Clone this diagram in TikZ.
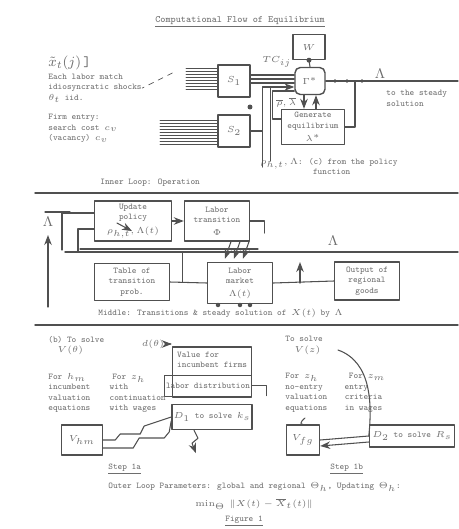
\documentclass[tikz,border=0pt]{standalone}
\usepackage{amsmath,amssymb}
\usetikzlibrary{arrows.meta,calc,positioning}
\definecolor{scanink}{HTML}{505050}
\definecolor{scantext}{HTML}{6E6E6E}

\begin{document}
\begin{tikzpicture}[x=0.02cm,y=-0.02cm,>=Stealth,line cap=round,line join=round,
  font=\fontsize{5}{6}\selectfont\ttfamily,text=scantext,
  blk/.style={draw=scanink,thick,inner sep=1pt,align=center},
  note/.style={inner sep=0pt,align=left,anchor=north west},
  wire/.style={draw=scanink,semithick},
  rule/.style={draw=scanink,thick},
  dot/.style={circle,fill=scanink,inner sep=1pt}]
\path[use as bounding box] (0,0) rectangle (458,529);
\fill[white] (0,0) rectangle (458,529);

\node[font=\fontsize{5.5}{6}\selectfont\ttfamily] (title) at (240,22) {\underline{Computational Flow of Equilibrium}};

% oberer Teil: Schocks -> S1, S2 -> P
\node[note] (shock) at (48,56) {{\fontsize{8}{8}\selectfont$\tilde{x}_t(j)$\,]}\\[1pt]
  Each labor match\\idiosyncratic shocks\\$\theta_t$ iid.\\[5pt]
  Firm entry:\\search cost $c_v$\\(vacancy) $c_v$};
\node[blk,minimum width=0.64cm,minimum height=0.64cm] (S1) at (234,81) {$S_1$};
\node[blk,minimum width=0.64cm,minimum height=0.64cm] (S2) at (234,131) {$S_2$};
\node[blk,minimum width=0.64cm,minimum height=0.5cm] (W) at (309,47) {$W$};
\node[blk,rounded corners=3pt,minimum width=0.6cm,minimum height=0.54cm] (P) at (310,81) {$\Gamma^{*}$};
\node[blk,minimum width=1.26cm,minimum height=0.7cm] (gen) at (313,127) {Generate\\equilibrium\\[1.5pt]$\lambda^{*}$};
\node[note] (tc) at (262,56) {$TC_{ij}$};
\node[note,font=\fontsize{4.5}{5}\selectfont] (rho) at (276,97) {$\overline{\rho},\overline{\lambda}$};
\node[note] (steady) at (386,90) {to the steady\\solution};
\node[note] (flow) at (260,158) {$\rho_{h,t},\Lambda$: (c) from the policy\\\hspace{6em}function};
\node[font=\fontsize{8}{8}\selectfont] (lam1) at (380,74) {$\Lambda$};
\coordinate (outR) at (458,81);
\coordinate (tap) at (355,81);

% schraffierte Baender
\foreach \yy in {68,71,...,89} \draw[scanink,thin] (186,\yy) -- (S1.west |- 0,\yy);
\foreach \yy in {120,123,...,144} \draw[scanink,thin] (160,\yy) -- (S2.west |- 0,\yy);
\draw[scanink,thin,dashed] (S1.west) ++(-45,-8) -- ++(-30,15);

\foreach \d in {-6,-2,2} \draw[wire] ($(S1.east)+(0,\d)$) -- ($(P.west)+(0,\d)$);
\draw[wire,->] (S2.east) -- ++(12,0) |- ($(P.west)+(0,6)$);
\draw[wire] ($(S1.east)+(12,6)$) -- ++(0,80);
\draw[wire] ($(S1.east)+(20,6)$) -- ++(0,74);
\node[dot] (d1) at (250,107) {};
\draw[wire] (W.south) -- (P.north);
\node[dot] at (W.south) {};
\draw[wire] (P.east) -- (outR);
\foreach \xx in {335,347,362} \node[dot,inner sep=0.8pt] at (\xx,81) {};
\draw[wire] (gen.east) -| (tap);
\draw[wire,->] ($(P.south)+(-6,0)$) -- ($(gen.north)+(-9,0)$);
\draw[wire,<-] ($(P.south)+(6,0)$) -- ($(gen.north)+(3,0)$);
\draw[wire] ($(gen.west)+(0,-8)$) -- ++(-8,0) |- ($(P.west)+(0,10)$);

% innere Schleife
\node[note] (inner) at (100,179) {Inner Loop: Operation};
\draw[rule] (35,193) -- (458,193);
\node[blk,minimum width=1.54cm,minimum height=0.8cm] (upd) at (133,221) {Update\\policy\\[1.5pt]$\rho_{h,t},\Lambda(t)$};
\node[blk,minimum width=1.3cm,minimum height=0.8cm] (trans) at (217,221) {Labor\\transition\\[1pt]$\Phi$};
\node[blk,minimum width=1.5cm,minimum height=0.74cm] (tab) at (132,282) {Table of\\transition\\prob.};
\node[blk,minimum width=1.3cm,minimum height=0.82cm] (mkt) at (240,283) {Labor\\market\\[1pt]$\Lambda(t)$};
\node[blk,minimum width=1.3cm,minimum height=0.76cm] (outp) at (367,281) {Output of\\regional\\goods};
\node[font=\fontsize{8}{8}\selectfont] (lam2) at (333,241) {$\Lambda$};
\node[font=\fontsize{8}{8}\selectfont] (lam3) at (48,222) {$\Lambda$};
\node[note] (mid) at (98,309) {Middle: Transitions \& steady solution of $X(t)$ by $\Lambda$};
\coordinate (busL) at (65,252);
\coordinate (busR) at (458,252);
\coordinate (loopB) at (48,307);

\draw[rule] (busL) -- (busR);
\draw[wire] ($(busL)+(15,-3)$) -- ($(busR)+(-200,-3)$);
\draw[wire,->] (upd.east) -- (trans.west);
\draw[wire] ($(upd.west)+(0,-8)$) -| (62,250);
\draw[wire] ($(upd.west)+(0,8)$) -| (78,252);
\draw[wire,->] (loopB) -- ($(lam3.south)+(0,2)$);
\draw[wire] (70,212) -- ++(-25,0);
\draw[wire] (tab.east) -- (mkt.west);
\draw[wire] ($(tab.east)+(12,0)$) -- ++(0,-30);
\draw[wire] (mkt.east) -- (outp.west);
\draw[wire,->] (300,283) -- (300,262);
\foreach \xx in {236,245,254} \draw[wire,->] ($(trans.south)+(\xx-222,0)$) -- ++(-6,17);
\draw[wire] (trans.east) -- ++(14,0) -- ++(0,12);
\foreach \xx in {218,240,250} \node[dot,inner sep=0.9pt] at (\xx,305) {};
\draw[rule] (35,325) -- (458,325);

% Schritt 1a
\node[note] (solveA) at (48,336) {(b) To solve\\\ \ $V(\theta)$\\[9pt]
  For $h_m$\hspace{3em}For $z_h$\\incumbent\hspace{2.2em}with\\valuation\hspace{2.2em}continuation\\equations\hspace{2.2em}with wages};
\node[font=\fontsize{5.5}{6}\selectfont] (dth) at (153,344) {$d(\theta)$};
\node[blk,minimum width=1.58cm,minimum height=1cm] (val) at (212,372) {};
\node[note] (valtxt) at ($(val.north west)+(5,5)$) {Value for\\incumbent firms};
\node[blk,minimum width=1.3cm,minimum height=0.42cm] (dist) at ($(val.south)+(-4,-12)$) {labor distribution};
\node[blk,minimum width=1.58cm,minimum height=0.5cm] (dOne) at (212,417) {$D_1$ to solve $k_s$};
\node[blk,minimum width=0.82cm,minimum height=0.6cm] (vhm) at (82,440) {$V_{hm}$};
\node[note] (stepA) at (108,464) {\underline{Step 1a}};
\draw[wire,->] (dth.east) -- (val.west |- dth);
\draw[wire] (dist.east) -- ++(14,0) -- ++(0,10);
\draw[wire] (vhm.east) -- ++(12,0) -- ++(5,-6) -- ++(20,0) -- ++(4,-8) -- (dOne.west);
\draw[wire] ($(vhm.east)+(0,8)$) -- ++(30,0) -- ++(6,-10) -- ++(25,0) -- ++(5,-6) -- ($(dOne.west)+(0,4)$);
\draw[wire,->] ($(dOne.south)+(-18,0)$) -- ++(4,8) -- ++(-6,5) -- ++(4,10);
\draw[wire,->] (shock.south east) ++(-25,80) -- ++(15,8);

% Schritt 1b
\node[note] (solveB) at (285,336) {To solve\\\ \ $V(z)$\\[9pt]
  For $z_h$\hspace{3.5em}For $z_m$\\no-entry\hspace{2.5em}entry\\valuation\hspace{2em}criteria\\equations\hspace{2em}in wages};
\node[blk,minimum width=0.66cm,minimum height=0.6cm] (vfg) at (303,440) {$V_{fg}$};
\node[blk,minimum width=1.7cm,minimum height=0.44cm] (dTwo) at (412,436) {$D_2$ to solve $R_s$};
\node[note] (stepB) at (330,464) {\underline{Step 1b}};
\draw[wire] (vfg.east) -- (dTwo.west);
\draw[wire,<-] ($(vfg.east)+(0,6)$) -- ($(dTwo.west)+(0,6)$);
\draw[wire] (338,350) .. controls (372,362) and (372,405) .. (dTwo.west);
\draw[wire] (305,418) .. controls (300,422) and (300,425) .. (vfg.north);

% Aussenschleife
\node[note] (outer) at (108,482) {Outer Loop Parameters: global and regional $\Theta_h$, Updating $\Theta_h$:};
\node[note] (crit) at (195,498) {$\min_{\Theta}\,\|X(t)-\overline{X}_{t}(t)\|$};
\node[note] (fig) at (225,516) {\underline{Figure 1}};
\end{tikzpicture}
\end{document}
